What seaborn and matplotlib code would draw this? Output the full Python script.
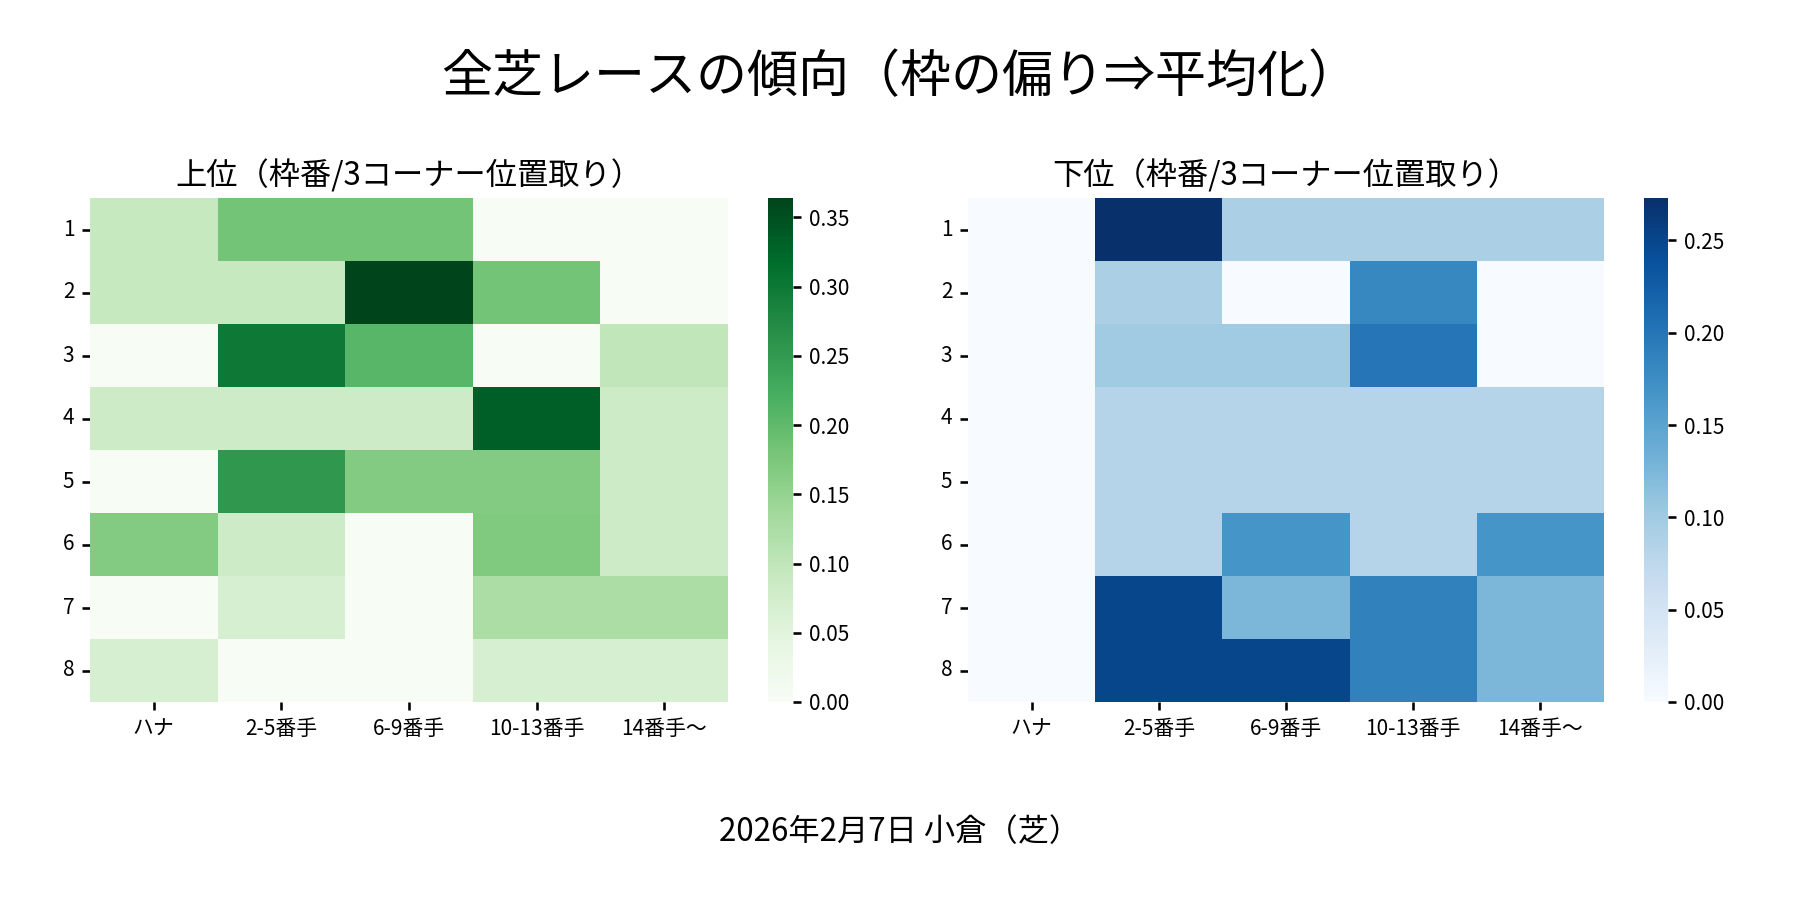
import numpy as np
import pandas as pd
import seaborn as sns
import matplotlib.pyplot as plt

sns.set_theme(style="white")
plt.rcParams['font.family'] = ['Noto Sans CJK JP', 'DejaVu Sans']
plt.rcParams['text.color'] = 'black'
plt.rcParams['xtick.color'] = 'black'
plt.rcParams['ytick.color'] = 'black'
plt.rcParams['axes.labelcolor'] = 'black'

# 枠番 (rows) and 3コーナー位置取り (columns)
waku = ['1', '2', '3', '4', '5', '6', '7', '8']
positions = ['ハナ', '2-5番手', '6-9番手', '10-13番手', '14番手〜']

# 上位 (top finishers) share per cell
upper = [
    [0.091, 0.182, 0.182, 0.000, 0.000],
    [0.091, 0.091, 0.364, 0.182, 0.000],
    [0.000, 0.300, 0.207, 0.000, 0.100],
    [0.083, 0.083, 0.083, 0.333, 0.083],
    [0.000, 0.255, 0.167, 0.167, 0.083],
    [0.167, 0.083, 0.000, 0.170, 0.083],
    [0.000, 0.067, 0.000, 0.125, 0.125],
    [0.067, 0.000, 0.000, 0.067, 0.067],
]

# 下位 (bottom finishers) share per cell
lower = [
    [0.000, 0.273, 0.091, 0.091, 0.091],
    [0.000, 0.091, 0.000, 0.182, 0.000],
    [0.000, 0.100, 0.100, 0.200, 0.000],
    [0.000, 0.083, 0.083, 0.083, 0.083],
    [0.000, 0.083, 0.083, 0.083, 0.083],
    [0.000, 0.083, 0.167, 0.083, 0.167],
    [0.000, 0.250, 0.125, 0.188, 0.125],
    [0.000, 0.250, 0.250, 0.188, 0.125],
]

df_upper = pd.DataFrame(upper, index=waku, columns=positions)
df_lower = pd.DataFrame(lower, index=waku, columns=positions)

fig = plt.figure(figsize=(12, 6), dpi=150)

ax1 = fig.add_axes([0.05, 0.22, 0.3544, 0.56])
cax1 = fig.add_axes([0.4267, 0.22, 0.0139, 0.56])
ax2 = fig.add_axes([0.5378, 0.22, 0.3533, 0.56])
cax2 = fig.add_axes([0.9133, 0.22, 0.0134, 0.56])

sns.heatmap(df_upper, cmap='Greens', ax=ax1, cbar_ax=cax1)
sns.heatmap(df_lower, cmap='Blues', ax=ax2, cbar_ax=cax2)

for ax, title in [(ax1, '上位（枠番/3コーナー位置取り）'), (ax2, '下位（枠番/3コーナー位置取り）')]:
    ax.set_title(title, fontsize=15, color='black')
    ax.set_xlabel('')
    ax.set_ylabel('')
    ax.tick_params(axis='y', rotation=0, left=True, length=4, labelsize=10, colors='black')
    ax.tick_params(axis='x', rotation=0, bottom=True, length=4, labelsize=10, colors='black')

for cax in (cax1, cax2):
    cax.tick_params(right=True, length=4, labelsize=10, colors='black')

fig.suptitle('全芝レースの傾向（枠の偏り⇒平均化）', fontsize=24.5, y=0.944, color='black')
fig.text(0.5, 0.075, '2026年2月7日 小倉（芝）', ha='center', va='center', fontsize=15, color='black')

fig.savefig('out.png', dpi=150)
